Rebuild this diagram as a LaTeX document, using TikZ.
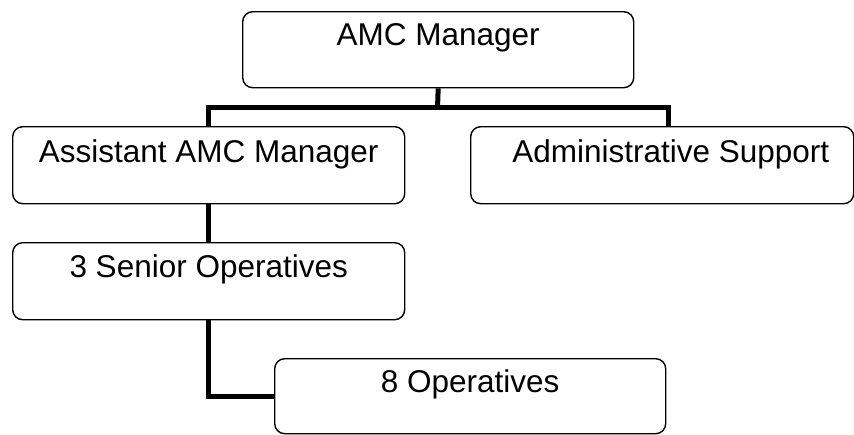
\documentclass[tikz,border=0pt]{standalone}
\usepackage{fontspec}
\setmainfont{Liberation Sans}
\begin{document}
\begin{tikzpicture}[x=1pt,y=-1pt,
  orgbox/.style={draw, rounded corners=10pt, line width=1.4pt, inner sep=0pt,
    font=\fontsize{31.5}{36}\selectfont, anchor=north west},
  conn/.style={line width=5pt}]
\useasboundingbox (0,0) rectangle (854,434);
\node[orgbox, minimum width=391pt, text height=34pt, text depth=42pt] (amc) at (242,11) {AMC Manager};
\node[orgbox, minimum width=392pt, text height=36pt, text depth=41pt] (asst) at (12,126) {Assistant AMC Manager};
\node[orgbox, minimum width=383pt, text height=36pt, text depth=41pt] (admin) at (470,126) {\hspace*{17pt}Administrative Support};
\node[orgbox, minimum width=392pt, text height=35pt, text depth=42pt] (senior) at (12,242) {3 Senior Operatives};
\node[orgbox, minimum width=391pt, text height=34pt, text depth=41pt] (ops) at (274,358) {8 Operatives};
\coordinate (junc) at (437.5,107.5);
\coordinate (admtop) at ([xshift=6pt]admin.north);
\draw[conn] (amc.south) -- (junc);
\draw[conn] (asst.north) |- (junc) -| (admtop);
\draw[conn] (asst.south) -- (senior.north);
\draw[conn] (senior.south) |- (ops.west);
\end{tikzpicture}
\end{document}
